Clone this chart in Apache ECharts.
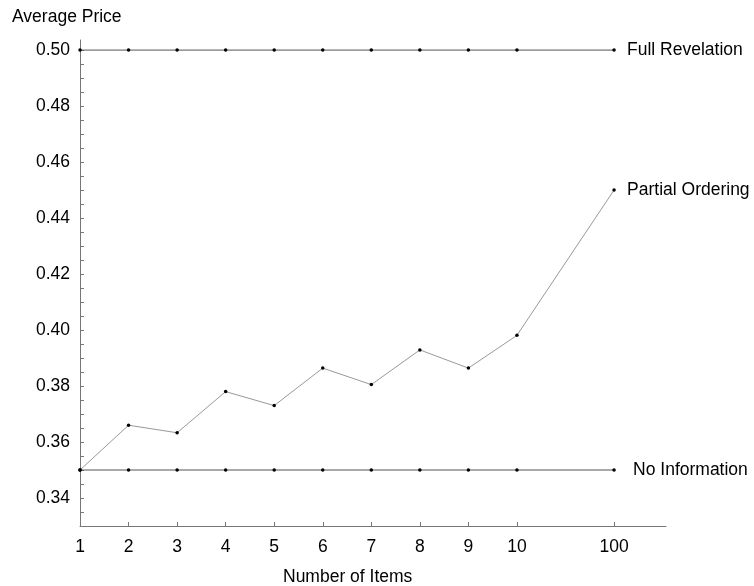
<!DOCTYPE html>
<html>
<head>
<meta charset="utf-8">
<script src="https://cdn.jsdelivr.net/npm/echarts@6/dist/echarts.min.js"></script>
<style>html,body{margin:0;padding:0;background:#fff}#c{width:754px;height:586px}</style>
</head>
<body>
<div id="c"></div>
<script>
const xLabels = ['1','2','3','4','5','6','7','8','9','10','100'];
const xPositions = [1,2,3,4,5,6,7,8,9,10,12];
const fullRevelation = [0.50,0.50,0.50,0.50,0.50,0.50,0.50,0.50,0.50,0.50,0.50];
const partialOrdering = [0.350,0.366,0.3633,0.378,0.373,0.3864,0.3805,0.3929,0.3864,0.3981,0.450];
const noInformation = [0.35,0.35,0.35,0.35,0.35,0.35,0.35,0.35,0.35,0.35,0.35];
const yTickLabels = [0.34,0.36,0.38,0.40,0.42,0.44,0.46,0.48,0.50];
const yTicks = [0.335,0.34,0.345,0.35,0.355,0.36,0.365,0.37,0.375,0.38,0.385,0.39,0.395,0.40,0.405,0.41,0.415,0.42,0.425,0.43,0.435,0.44,0.445,0.45,0.455,0.46,0.465,0.47,0.475,0.48,0.485,0.49,0.495,0.50];

const font = 'Arial, "Liberation Sans", sans-serif';
const fs = 17.5;
function pairs(arr){ return arr.map((v,i)=>[xPositions[i], v]); }
function mkSeries(name, data, color, dist){
  return {
    name, type:'line', data: pairs(data), symbol:'circle', symbolSize:3.5,
    itemStyle:{color:'#000'}, lineStyle:{color, width:1}, animation:false,
    endLabel:{show:true, formatter: name, distance: dist, color:'#000', fontSize: fs, fontFamily: font}
  };
}
const chart = echarts.init(document.getElementById('c'));
chart.setOption({
  backgroundColor:'#fff',
  animation:false,
  title:[
    {text:'Average Price', left:7, top:3, textStyle:{fontSize:fs, fontWeight:'normal', color:'#000', fontFamily:font}},
    {text:'Number of Items', left:278, top:563, textStyle:{fontSize:fs, fontWeight:'normal', color:'#000', fontFamily:font}}
  ],
  grid:{left:80, right:88, top:40, bottom:60},
  xAxis:{
    type:'value', min:1, max:13.07,
    axisLine:{lineStyle:{color:'#777', width:1}},
    axisTick:{show:true, inside:true, length:4, lineStyle:{color:'#777'}, customValues: xPositions},
    axisLabel:{color:'#000', fontSize:fs, fontFamily:font, margin:12, customValues: xPositions,
      formatter: v => { const i = xPositions.indexOf(v); return i>=0 ? xLabels[i] : ''; }},
    splitLine:{show:false}
  },
  yAxis:{
    type:'value', min:0.33, max:0.5036,
    axisLine:{show:true, lineStyle:{color:'#777', width:1}},
    axisTick:{show:true, inside:true, length:4, lineStyle:{color:'#777'}, customValues: yTicks},
    axisLabel:{color:'#000', fontSize:fs, fontFamily:font, margin:10, customValues: yTickLabels,
      formatter: v => v.toFixed(2)},
    splitLine:{show:false}
  },
  series:[
    mkSeries('Full Revelation', fullRevelation, '#555', 13),
    mkSeries('Partial Ordering', partialOrdering, '#999', 13),
    mkSeries('No Information', noInformation, '#555', 19)
  ]
});
</script>
</body>
</html>
